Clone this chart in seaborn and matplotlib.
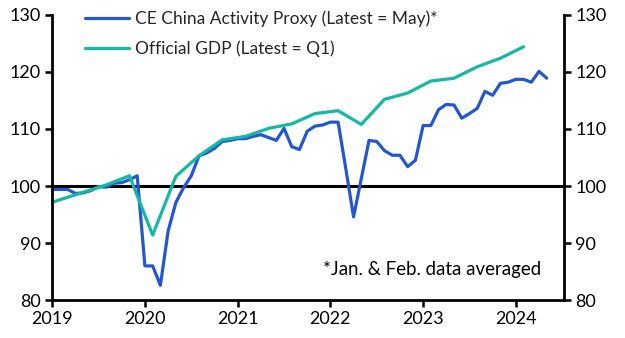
import numpy as np
import pandas as pd
import matplotlib
matplotlib.use("Agg")
import matplotlib.pyplot as plt
import seaborn as sns

# ---- data ----
proxy_label = "CE China Activity Proxy (Latest = May)*"
gdp_label = "Official GDP (Latest = Q1)"

proxy_start = (2019, 1)
proxy_values = [
    # 2019
    99.4, 99.4, 99.4, 98.7, 98.8, 99.2, 99.9, 99.8, 100.5, 100.6, 101.1, 101.8,
    # 2020
    86.0, 86.0, 82.6, 92.1, 97.1, 99.7, 101.8, 105.3, 105.8, 106.6, 107.8, 108.0,
    # 2021
    108.3, 108.3, 108.7, 109.0, 108.5, 108.0, 110.1, 106.9, 106.4, 109.6, 110.5, 110.7,
    # 2022
    111.2, 111.2, 103.0, 94.6, 101.3, 108.0, 107.8, 106.2, 105.4, 105.4, 103.4, 104.5,
    # 2023
    110.6, 110.6, 113.4, 114.3, 114.2, 111.9, 112.7, 113.6, 116.6, 115.9, 118.0, 118.2,
    # 2024
    118.7, 118.7, 118.2, 120.1, 118.9,
]

gdp_start = (2018, 4)
gdp_values = [
    96.3,                          # 2018 Q4
    97.6, 98.9, 100.2, 101.8,      # 2019
    91.4, 101.7, 105.3, 108.1,     # 2020
    108.7, 110.1, 110.9, 112.7,    # 2021
    113.2, 110.8, 115.2, 116.3,    # 2022
    118.4, 118.9, 120.9, 122.4,    # 2023
    124.4,                         # 2024 Q1
]

x_ticks = [2019, 2020, 2021, 2022, 2023, 2024]
y_ticks = [80, 90, 100, 110, 120, 130]
footnote = "*Jan. & Feb. data averaged"

# ---- build tables ----
py, pm = proxy_start
proxy_t = [py + (pm - 1 + i) / 12 for i in range(len(proxy_values))]
gy, gq = gdp_start
gdp_t = [gy + (gq - 1 + i) / 4 + 1 / 12 for i in range(len(gdp_values))]

df = pd.concat([
    pd.DataFrame({"t": proxy_t, "v": proxy_values, "s": proxy_label}),
    pd.DataFrame({"t": gdp_t, "v": gdp_values, "s": gdp_label}),
], ignore_index=True)

# ---- style ----
sns.set_style("ticks")
plt.rcParams["font.family"] = ["Lato", "DejaVu Sans"]
FS = 13

blue = "#2357D2"
teal = "#14B8A4"

fig = plt.figure(figsize=(6.25, 3.38), dpi=100)
ax = fig.add_axes([0.0835, 0.112, 0.819, 0.844])

sns.lineplot(data=df, x="t", y="v", hue="s", palette=[blue, teal],
             hue_order=[proxy_label, gdp_label], lw=2.3, ax=ax,
             legend=True, sort=False)

ax.axhline(100, color="black", lw=2.2, zorder=1)

ax.set_xlim(2019.0, 2024.52)
ax.set_ylim(80, 130)
ax.set_xticks(x_ticks)
ax.set_xticklabels([str(x) for x in x_ticks], fontsize=FS)
ax.set_yticks(y_ticks)
ax.set_yticklabels([str(y) for y in y_ticks], fontsize=FS)
ax.set_xlabel("")
ax.set_ylabel("")

ax.tick_params(axis="both", direction="out", length=5, width=1.8, color="black",
               labelcolor="black", pad=3)
ax.tick_params(axis="y", left=True, right=True, labelleft=True, labelright=True)

for side in ["left", "right", "bottom"]:
    ax.spines[side].set_visible(True)
    ax.spines[side].set_linewidth(2.0)
    ax.spines[side].set_color("black")
ax.spines["top"].set_visible(False)

leg = ax.legend(loc="upper left", frameon=False, fontsize=12.5,
                handlelength=2.55, handletextpad=0.32, borderaxespad=0.0,
                bbox_to_anchor=(0.05, 1.04), labelspacing=0.8)
for line in leg.get_lines():
    line.set_linewidth(2.3)

ax.text(0.955, 0.108, footnote, transform=ax.transAxes, ha="right", va="center",
        fontsize=13.4, color="black")

fig.savefig("out.png", dpi=100)
